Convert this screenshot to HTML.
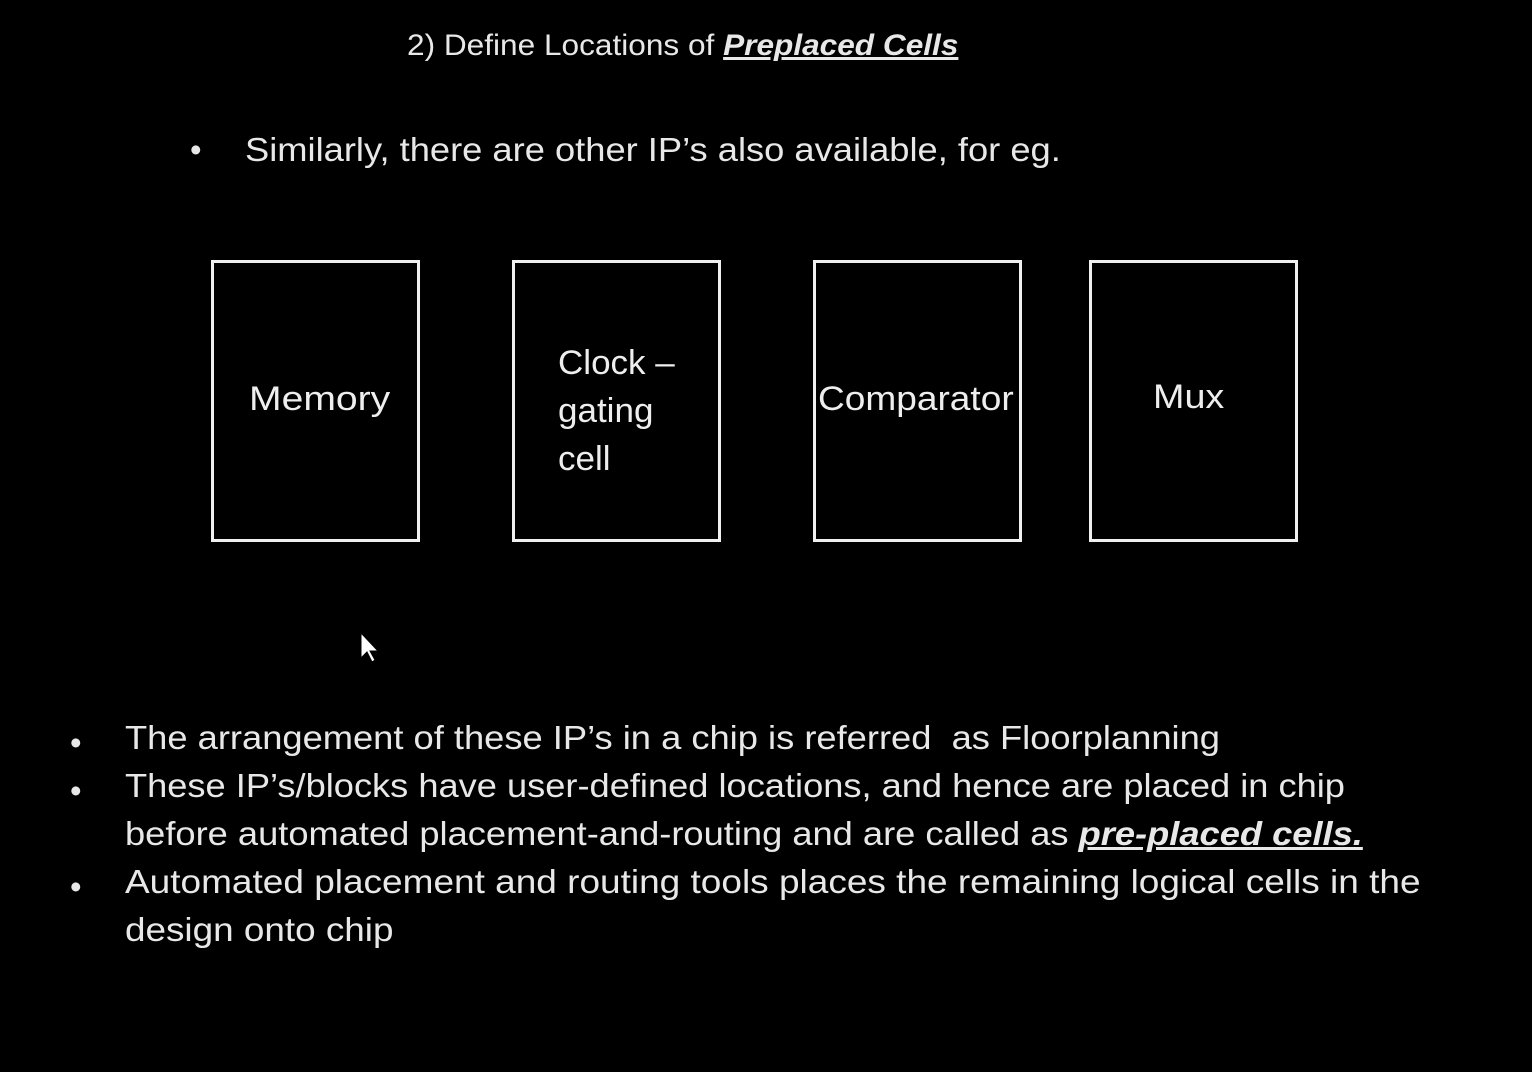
<!DOCTYPE html>
<html><head><meta charset="utf-8"><style>
html,body{margin:0;padding:0;background:#000;}
body{width:1532px;height:1072px;position:relative;overflow:hidden;font-family:"Liberation Sans",sans-serif;color:#e8e8e8;}
.t{position:absolute;white-space:nowrap;transform-origin:0 0;}
.box{position:absolute;border:3px solid #f0f0f0;box-sizing:border-box;}
.lbl{position:absolute;font-size:34px;color:#eee;transform-origin:0 0;white-space:nowrap;}
.b{font-size:33px;}
</style></head><body>
<div class="t" style="left:407px;top:29px;font-size:30px;transform:scaleX(1.053);">2) Define Locations of <b><i><u>Preplaced Cells</u></i></b></div>
<div class="t" style="left:190px;top:131px;font-size:33px;">•</div>
<div class="t" style="left:245px;top:131px;font-size:33px;transform:scaleX(1.10);">Similarly, there are other IP’s also available, for eg.</div>

<div class="box" style="left:211px;top:260px;width:209px;height:282px;"></div>
<div class="box" style="left:512px;top:260px;width:209px;height:282px;"></div>
<div class="box" style="left:813px;top:260px;width:209px;height:282px;"></div>
<div class="box" style="left:1089px;top:260px;width:209px;height:282px;"></div>
<div class="lbl" style="left:249px;top:380px;transform:scaleX(1.15);">Memory</div>
<div class="lbl" style="left:558px;top:339px;line-height:48px;transform:scaleX(1.03);">Clock –<br>gating<br>cell</div>
<div class="lbl" style="left:818px;top:380px;transform:scaleX(1.09);">Comparator</div>
<div class="lbl" style="left:1153px;top:378px;transform:scaleX(1.11);">Mux</div>

<svg style="position:absolute;left:360px;top:632px" width="20" height="32"><path d="M1 1 L1 26 L7 20 L12 30 L15 28 L10 19 L18 19 Z" fill="#fff" stroke="#000"/></svg>

<div class="t b" style="left:70px;top:719px;line-height:48px;">•<br>•<br><br>•</div>
<div class="t b" style="left:125px;top:719px;transform:scaleX(1.10);">The arrangement of these IP’s in a chip is referred&nbsp; as Floorplanning</div>
<div class="t b" style="left:125px;top:767px;transform:scaleX(1.098);">These IP’s/blocks have user-defined locations, and hence are placed in chip</div>
<div class="t b" style="left:125px;top:815px;transform:scaleX(1.099);">before automated placement-and-routing and are called as <b><i><u>pre-placed cells.</u></i></b></div>
<div class="t b" style="left:125px;top:863px;transform:scaleX(1.121);">Automated placement and routing tools places the remaining logical cells in the</div>
<div class="t b" style="left:125px;top:911px;transform:scaleX(1.117);">design onto chip</div>
</body></html>
